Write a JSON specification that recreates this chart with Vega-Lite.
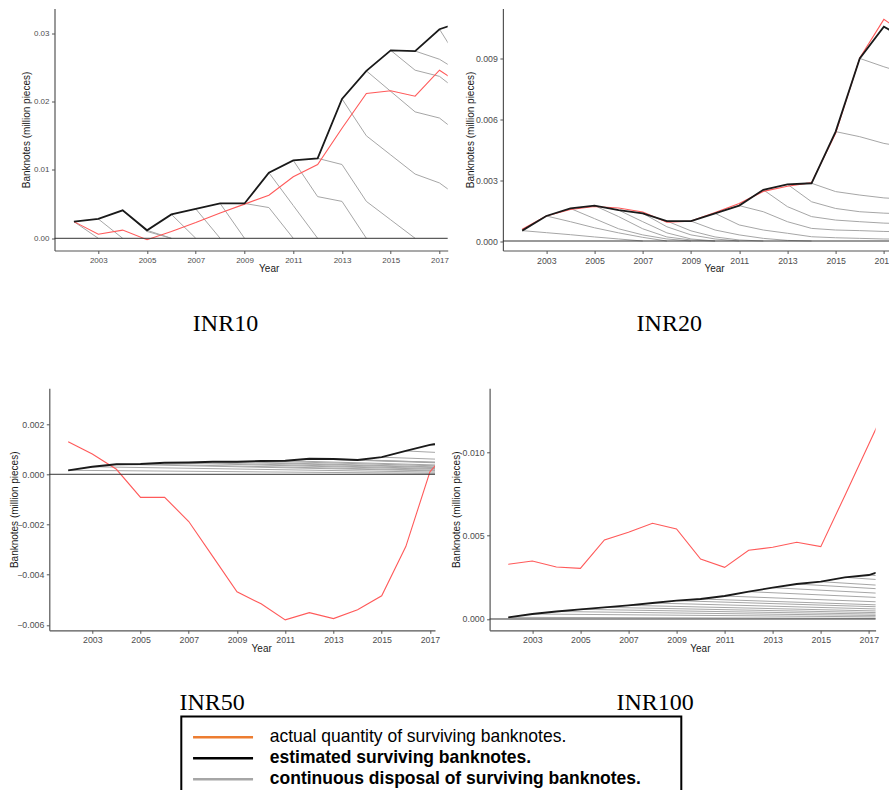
{
  "$schema": "https://vega.github.io/schema/vega-lite/v6.json",
  "padding": {"left": 9.3, "top": 8.5, "right": 0, "bottom": 0},
  "datasets": {
    "inr10": [
      {"series": "estimated", "year": 2002, "value": 0.00244}, {"series": "estimated", "year": 2003, "value": 0.00283},
      {"series": "estimated", "year": 2004, "value": 0.0041}, {"series": "estimated", "year": 2005, "value": 0.00117},
      {"series": "estimated", "year": 2006, "value": 0.0035}, {"series": "estimated", "year": 2007, "value": 0.0043},
      {"series": "estimated", "year": 2008, "value": 0.0051}, {"series": "estimated", "year": 2009, "value": 0.0051},
      {"series": "estimated", "year": 2010, "value": 0.0096}, {"series": "estimated", "year": 2011, "value": 0.0114},
      {"series": "estimated", "year": 2012, "value": 0.0117}, {"series": "estimated", "year": 2013, "value": 0.0204},
      {"series": "estimated", "year": 2014, "value": 0.0245}, {"series": "estimated", "year": 2015, "value": 0.0275},
      {"series": "estimated", "year": 2016, "value": 0.0274}, {"series": "estimated", "year": 2017, "value": 0.0306},
      {"series": "estimated", "year": 2018, "value": 0.0318},
      {"series": "actual", "year": 2002, "value": 0.00244}, {"series": "actual", "year": 2003, "value": 0.00059},
      {"series": "actual", "year": 2004, "value": 0.0012}, {"series": "actual", "year": 2005, "value": -0.0002},
      {"series": "actual", "year": 2006, "value": 0.001}, {"series": "actual", "year": 2007, "value": 0.0023},
      {"series": "actual", "year": 2008, "value": 0.0037}, {"series": "actual", "year": 2009, "value": 0.005},
      {"series": "actual", "year": 2010, "value": 0.0063}, {"series": "actual", "year": 2011, "value": 0.009},
      {"series": "actual", "year": 2012, "value": 0.0108}, {"series": "actual", "year": 2013, "value": 0.0161},
      {"series": "actual", "year": 2014, "value": 0.0212}, {"series": "actual", "year": 2015, "value": 0.0216},
      {"series": "actual", "year": 2016, "value": 0.0208}, {"series": "actual", "year": 2017, "value": 0.0246},
      {"series": "actual", "year": 2018, "value": 0.0222},
      {"series": "disposal", "line": "g2002", "year": 2002, "value": 0.00244}, {"series": "disposal", "line": "g2002", "year": 2003, "value": 0},
      {"series": "disposal", "line": "g2003", "year": 2003, "value": 0.00283}, {"series": "disposal", "line": "g2003", "year": 2004, "value": 0},
      {"series": "disposal", "line": "g2004", "year": 2004, "value": 0.0041}, {"series": "disposal", "line": "g2004", "year": 2005, "value": 0.001}, {"series": "disposal", "line": "g2004", "year": 2006, "value": 0},
      {"series": "disposal", "line": "g2005", "year": 2005, "value": 0.00117}, {"series": "disposal", "line": "g2005", "year": 2006, "value": 0},
      {"series": "disposal", "line": "g2006", "year": 2006, "value": 0.0035}, {"series": "disposal", "line": "g2006", "year": 2007, "value": 0},
      {"series": "disposal", "line": "g2007", "year": 2007, "value": 0.0043}, {"series": "disposal", "line": "g2007", "year": 2008, "value": 0},
      {"series": "disposal", "line": "g2008", "year": 2008, "value": 0.0051}, {"series": "disposal", "line": "g2008", "year": 2009, "value": 0},
      {"series": "disposal", "line": "g2009", "year": 2009, "value": 0.0051}, {"series": "disposal", "line": "g2009", "year": 2010, "value": 0.0045}, {"series": "disposal", "line": "g2009", "year": 2011, "value": 0},
      {"series": "disposal", "line": "g2010", "year": 2010, "value": 0.0096}, {"series": "disposal", "line": "g2010", "year": 2011, "value": 0.0048}, {"series": "disposal", "line": "g2010", "year": 2012, "value": 0},
      {"series": "disposal", "line": "g2011", "year": 2011, "value": 0.0114}, {"series": "disposal", "line": "g2011", "year": 2012, "value": 0.0061}, {"series": "disposal", "line": "g2011", "year": 2013, "value": 0.0054}, {"series": "disposal", "line": "g2011", "year": 2014, "value": 0},
      {"series": "disposal", "line": "g2012", "year": 2012, "value": 0.0117}, {"series": "disposal", "line": "g2012", "year": 2013, "value": 0.0108}, {"series": "disposal", "line": "g2012", "year": 2014, "value": 0.0054}, {"series": "disposal", "line": "g2012", "year": 2015, "value": 0.0027}, {"series": "disposal", "line": "g2012", "year": 2016, "value": 0},
      {"series": "disposal", "line": "g2013", "year": 2013, "value": 0.0204}, {"series": "disposal", "line": "g2013", "year": 2014, "value": 0.015}, {"series": "disposal", "line": "g2013", "year": 2015, "value": 0.0122}, {"series": "disposal", "line": "g2013", "year": 2016, "value": 0.0094}, {"series": "disposal", "line": "g2013", "year": 2017, "value": 0.0081}, {"series": "disposal", "line": "g2013", "year": 2018, "value": 0.0055},
      {"series": "disposal", "line": "g2014", "year": 2014, "value": 0.0245}, {"series": "disposal", "line": "g2014", "year": 2015, "value": 0.0215}, {"series": "disposal", "line": "g2014", "year": 2016, "value": 0.0185}, {"series": "disposal", "line": "g2014", "year": 2017, "value": 0.0176}, {"series": "disposal", "line": "g2014", "year": 2018, "value": 0.0148},
      {"series": "disposal", "line": "g2015", "year": 2015, "value": 0.0275}, {"series": "disposal", "line": "g2015", "year": 2016, "value": 0.0246}, {"series": "disposal", "line": "g2015", "year": 2017, "value": 0.0237}, {"series": "disposal", "line": "g2015", "year": 2018, "value": 0.0209},
      {"series": "disposal", "line": "g2016", "year": 2016, "value": 0.0274}, {"series": "disposal", "line": "g2016", "year": 2017, "value": 0.0262}, {"series": "disposal", "line": "g2016", "year": 2018, "value": 0.024},
      {"series": "disposal", "line": "g2017", "year": 2017, "value": 0.0306}, {"series": "disposal", "line": "g2017", "year": 2018, "value": 0.0249}
    ],
    "inr20": [
      {"series": "estimated", "year": 2002, "value": 0.00051}, {"series": "estimated", "year": 2003, "value": 0.00123},
      {"series": "estimated", "year": 2004, "value": 0.0016}, {"series": "estimated", "year": 2005, "value": 0.00174},
      {"series": "estimated", "year": 2006, "value": 0.00152}, {"series": "estimated", "year": 2007, "value": 0.00136},
      {"series": "estimated", "year": 2008, "value": 0.00098}, {"series": "estimated", "year": 2009, "value": 0.00098},
      {"series": "estimated", "year": 2010, "value": 0.00136}, {"series": "estimated", "year": 2011, "value": 0.00174},
      {"series": "estimated", "year": 2012, "value": 0.00252}, {"series": "estimated", "year": 2013, "value": 0.00279},
      {"series": "estimated", "year": 2014, "value": 0.00284}, {"series": "estimated", "year": 2015, "value": 0.00538},
      {"series": "estimated", "year": 2016, "value": 0.00898}, {"series": "estimated", "year": 2017, "value": 0.01054},
      {"series": "estimated", "year": 2018, "value": 0.0099},
      {"series": "actual", "year": 2002, "value": 0.00058}, {"series": "actual", "year": 2003, "value": 0.00123},
      {"series": "actual", "year": 2004, "value": 0.00155}, {"series": "actual", "year": 2005, "value": 0.0017},
      {"series": "actual", "year": 2006, "value": 0.00162}, {"series": "actual", "year": 2007, "value": 0.00143},
      {"series": "actual", "year": 2008, "value": 0.00093}, {"series": "actual", "year": 2009, "value": 0.00098},
      {"series": "actual", "year": 2010, "value": 0.0014}, {"series": "actual", "year": 2011, "value": 0.00185},
      {"series": "actual", "year": 2012, "value": 0.00244}, {"series": "actual", "year": 2013, "value": 0.00269},
      {"series": "actual", "year": 2014, "value": 0.00287}, {"series": "actual", "year": 2015, "value": 0.0053},
      {"series": "actual", "year": 2016, "value": 0.009}, {"series": "actual", "year": 2017, "value": 0.0109},
      {"series": "actual", "year": 2018, "value": 0.0101},
      {"series": "disposal", "line": "g2002", "year": 2002, "value": 0.00051}, {"series": "disposal", "line": "g2002", "year": 2003, "value": 0.00041}, {"series": "disposal", "line": "g2002", "year": 2004, "value": 0.00031}, {"series": "disposal", "line": "g2002", "year": 2005, "value": 0.0002}, {"series": "disposal", "line": "g2002", "year": 2006, "value": 0.0001}, {"series": "disposal", "line": "g2002", "year": 2007, "value": 0},
      {"series": "disposal", "line": "g2003", "year": 2003, "value": 0.00123}, {"series": "disposal", "line": "g2003", "year": 2004, "value": 0.00095}, {"series": "disposal", "line": "g2003", "year": 2005, "value": 0.00065}, {"series": "disposal", "line": "g2003", "year": 2006, "value": 0.0004}, {"series": "disposal", "line": "g2003", "year": 2007, "value": 0.00018}, {"series": "disposal", "line": "g2003", "year": 2008, "value": 0},
      {"series": "disposal", "line": "g2004", "year": 2004, "value": 0.0016}, {"series": "disposal", "line": "g2004", "year": 2005, "value": 0.0011}, {"series": "disposal", "line": "g2004", "year": 2006, "value": 0.0006}, {"series": "disposal", "line": "g2004", "year": 2007, "value": 0.0003}, {"series": "disposal", "line": "g2004", "year": 2008, "value": 0.0001}, {"series": "disposal", "line": "g2004", "year": 2009, "value": 0},
      {"series": "disposal", "line": "g2005", "year": 2005, "value": 0.00174}, {"series": "disposal", "line": "g2005", "year": 2006, "value": 0.0012}, {"series": "disposal", "line": "g2005", "year": 2007, "value": 0.0006}, {"series": "disposal", "line": "g2005", "year": 2008, "value": 0.0002}, {"series": "disposal", "line": "g2005", "year": 2009, "value": 0.00005}, {"series": "disposal", "line": "g2005", "year": 2010, "value": 0},
      {"series": "disposal", "line": "g2006", "year": 2006, "value": 0.00152}, {"series": "disposal", "line": "g2006", "year": 2007, "value": 0.00095}, {"series": "disposal", "line": "g2006", "year": 2008, "value": 0.0004}, {"series": "disposal", "line": "g2006", "year": 2009, "value": 0.0001}, {"series": "disposal", "line": "g2006", "year": 2010, "value": 0},
      {"series": "disposal", "line": "g2007", "year": 2007, "value": 0.00136}, {"series": "disposal", "line": "g2007", "year": 2008, "value": 0.0007}, {"series": "disposal", "line": "g2007", "year": 2009, "value": 0.0003}, {"series": "disposal", "line": "g2007", "year": 2010, "value": 0.0001}, {"series": "disposal", "line": "g2007", "year": 2011, "value": 0},
      {"series": "disposal", "line": "g2008", "year": 2008, "value": 0.00098}, {"series": "disposal", "line": "g2008", "year": 2009, "value": 0.0005}, {"series": "disposal", "line": "g2008", "year": 2010, "value": 0.0002}, {"series": "disposal", "line": "g2008", "year": 2011, "value": 0.00005}, {"series": "disposal", "line": "g2008", "year": 2012, "value": 0},
      {"series": "disposal", "line": "g2009", "year": 2009, "value": 0.00098}, {"series": "disposal", "line": "g2009", "year": 2010, "value": 0.00054}, {"series": "disposal", "line": "g2009", "year": 2011, "value": 0.0003}, {"series": "disposal", "line": "g2009", "year": 2012, "value": 0.00013}, {"series": "disposal", "line": "g2009", "year": 2013, "value": 0.00003}, {"series": "disposal", "line": "g2009", "year": 2014, "value": 0},
      {"series": "disposal", "line": "g2010", "year": 2010, "value": 0.00136}, {"series": "disposal", "line": "g2010", "year": 2011, "value": 0.00079}, {"series": "disposal", "line": "g2010", "year": 2012, "value": 0.00054}, {"series": "disposal", "line": "g2010", "year": 2013, "value": 0.00038}, {"series": "disposal", "line": "g2010", "year": 2014, "value": 0.00021}, {"series": "disposal", "line": "g2010", "year": 2015, "value": 0.00016}, {"series": "disposal", "line": "g2010", "year": 2016, "value": 0.00013}, {"series": "disposal", "line": "g2010", "year": 2017, "value": 0.0001}, {"series": "disposal", "line": "g2010", "year": 2018, "value": 0.00009},
      {"series": "disposal", "line": "g2011", "year": 2011, "value": 0.00174}, {"series": "disposal", "line": "g2011", "year": 2012, "value": 0.00144}, {"series": "disposal", "line": "g2011", "year": 2013, "value": 0.00095}, {"series": "disposal", "line": "g2011", "year": 2014, "value": 0.00062}, {"series": "disposal", "line": "g2011", "year": 2015, "value": 0.00054}, {"series": "disposal", "line": "g2011", "year": 2016, "value": 0.00051}, {"series": "disposal", "line": "g2011", "year": 2017, "value": 0.00047}, {"series": "disposal", "line": "g2011", "year": 2018, "value": 0.00045},
      {"series": "disposal", "line": "g2012", "year": 2012, "value": 0.00252}, {"series": "disposal", "line": "g2012", "year": 2013, "value": 0.00169}, {"series": "disposal", "line": "g2012", "year": 2014, "value": 0.0012}, {"series": "disposal", "line": "g2012", "year": 2015, "value": 0.00103}, {"series": "disposal", "line": "g2012", "year": 2016, "value": 0.00095}, {"series": "disposal", "line": "g2012", "year": 2017, "value": 0.00088}, {"series": "disposal", "line": "g2012", "year": 2018, "value": 0.00085},
      {"series": "disposal", "line": "g2013", "year": 2013, "value": 0.00279}, {"series": "disposal", "line": "g2013", "year": 2014, "value": 0.00193}, {"series": "disposal", "line": "g2013", "year": 2015, "value": 0.0016}, {"series": "disposal", "line": "g2013", "year": 2016, "value": 0.00144}, {"series": "disposal", "line": "g2013", "year": 2017, "value": 0.00137}, {"series": "disposal", "line": "g2013", "year": 2018, "value": 0.00133},
      {"series": "disposal", "line": "g2014", "year": 2014, "value": 0.00284}, {"series": "disposal", "line": "g2014", "year": 2015, "value": 0.00243}, {"series": "disposal", "line": "g2014", "year": 2016, "value": 0.00226}, {"series": "disposal", "line": "g2014", "year": 2017, "value": 0.00212}, {"series": "disposal", "line": "g2014", "year": 2018, "value": 0.00205},
      {"series": "disposal", "line": "g2015", "year": 2015, "value": 0.00538}, {"series": "disposal", "line": "g2015", "year": 2016, "value": 0.00513}, {"series": "disposal", "line": "g2015", "year": 2017, "value": 0.0048}, {"series": "disposal", "line": "g2015", "year": 2018, "value": 0.0046},
      {"series": "disposal", "line": "g2016", "year": 2016, "value": 0.00898}, {"series": "disposal", "line": "g2016", "year": 2017, "value": 0.00857}, {"series": "disposal", "line": "g2016", "year": 2018, "value": 0.0082},
      {"series": "disposal", "line": "g2017", "year": 2017, "value": 0.01054}, {"series": "disposal", "line": "g2017", "year": 2018, "value": 0.0097}
    ],
    "inr50": [
      {"series": "estimated", "year": 2002, "value": 0.00016}, {"series": "estimated", "year": 2003, "value": 0.0003},
      {"series": "estimated", "year": 2004, "value": 0.0004}, {"series": "estimated", "year": 2005, "value": 0.00041},
      {"series": "estimated", "year": 2006, "value": 0.00046}, {"series": "estimated", "year": 2007, "value": 0.00047},
      {"series": "estimated", "year": 2008, "value": 0.0005}, {"series": "estimated", "year": 2009, "value": 0.0005},
      {"series": "estimated", "year": 2010, "value": 0.00053}, {"series": "estimated", "year": 2011, "value": 0.00054},
      {"series": "estimated", "year": 2012, "value": 0.00062}, {"series": "estimated", "year": 2013, "value": 0.00061},
      {"series": "estimated", "year": 2014, "value": 0.00057}, {"series": "estimated", "year": 2015, "value": 0.00068},
      {"series": "estimated", "year": 2016, "value": 0.00093}, {"series": "estimated", "year": 2017, "value": 0.00117},
      {"series": "estimated", "year": 2018, "value": 0.00135},
      {"series": "actual", "year": 2002, "value": 0.0013}, {"series": "actual", "year": 2003, "value": 0.00081},
      {"series": "actual", "year": 2004, "value": 0.0002}, {"series": "actual", "year": 2005, "value": -0.00092},
      {"series": "actual", "year": 2006, "value": -0.00092}, {"series": "actual", "year": 2007, "value": -0.00188},
      {"series": "actual", "year": 2008, "value": -0.00328}, {"series": "actual", "year": 2009, "value": -0.00468},
      {"series": "actual", "year": 2010, "value": -0.00516}, {"series": "actual", "year": 2011, "value": -0.0058},
      {"series": "actual", "year": 2012, "value": -0.00551}, {"series": "actual", "year": 2013, "value": -0.00575},
      {"series": "actual", "year": 2014, "value": -0.0054}, {"series": "actual", "year": 2015, "value": -0.00484},
      {"series": "actual", "year": 2016, "value": -0.00288}, {"series": "actual", "year": 2017, "value": 0.0001},
      {"series": "actual", "year": 2018, "value": 0.0012},
      {"series": "disposal", "line": "g2002", "year": 2002, "value": 0.00016}, {"series": "disposal", "line": "g2002", "year": 2018, "value": 0.000032},
      {"series": "disposal", "line": "g2003", "year": 2003, "value": 0.0003}, {"series": "disposal", "line": "g2003", "year": 2018, "value": 0.000075},
      {"series": "disposal", "line": "g2004", "year": 2004, "value": 0.0004}, {"series": "disposal", "line": "g2004", "year": 2018, "value": 0.00012},
      {"series": "disposal", "line": "g2005", "year": 2005, "value": 0.00041}, {"series": "disposal", "line": "g2005", "year": 2018, "value": 0.000144},
      {"series": "disposal", "line": "g2006", "year": 2006, "value": 0.00046}, {"series": "disposal", "line": "g2006", "year": 2018, "value": 0.000184},
      {"series": "disposal", "line": "g2007", "year": 2007, "value": 0.00047}, {"series": "disposal", "line": "g2007", "year": 2018, "value": 0.000212},
      {"series": "disposal", "line": "g2008", "year": 2008, "value": 0.0005}, {"series": "disposal", "line": "g2008", "year": 2018, "value": 0.00025},
      {"series": "disposal", "line": "g2009", "year": 2009, "value": 0.0005}, {"series": "disposal", "line": "g2009", "year": 2018, "value": 0.000275},
      {"series": "disposal", "line": "g2010", "year": 2010, "value": 0.00053}, {"series": "disposal", "line": "g2010", "year": 2018, "value": 0.000318},
      {"series": "disposal", "line": "g2011", "year": 2011, "value": 0.00054}, {"series": "disposal", "line": "g2011", "year": 2018, "value": 0.000351},
      {"series": "disposal", "line": "g2012", "year": 2012, "value": 0.00062}, {"series": "disposal", "line": "g2012", "year": 2018, "value": 0.000434},
      {"series": "disposal", "line": "g2013", "year": 2013, "value": 0.00061}, {"series": "disposal", "line": "g2013", "year": 2018, "value": 0.000458},
      {"series": "disposal", "line": "g2014", "year": 2014, "value": 0.00057}, {"series": "disposal", "line": "g2014", "year": 2018, "value": 0.000456},
      {"series": "disposal", "line": "g2015", "year": 2015, "value": 0.00068}, {"series": "disposal", "line": "g2015", "year": 2018, "value": 0.000578},
      {"series": "disposal", "line": "g2016", "year": 2016, "value": 0.00093}, {"series": "disposal", "line": "g2016", "year": 2018, "value": 0.000837},
      {"series": "disposal", "line": "g2017", "year": 2017, "value": 0.00117}, {"series": "disposal", "line": "g2017", "year": 2018, "value": 0.00111}
    ],
    "inr100": [
      {"series": "estimated", "year": 2002, "value": 0.0001}, {"series": "estimated", "year": 2003, "value": 0.0003},
      {"series": "estimated", "year": 2004, "value": 0.00045}, {"series": "estimated", "year": 2005, "value": 0.00058},
      {"series": "estimated", "year": 2006, "value": 0.0007}, {"series": "estimated", "year": 2007, "value": 0.00082},
      {"series": "estimated", "year": 2008, "value": 0.00096}, {"series": "estimated", "year": 2009, "value": 0.0011},
      {"series": "estimated", "year": 2010, "value": 0.0012}, {"series": "estimated", "year": 2011, "value": 0.00138},
      {"series": "estimated", "year": 2012, "value": 0.00164}, {"series": "estimated", "year": 2013, "value": 0.00188},
      {"series": "estimated", "year": 2014, "value": 0.0021}, {"series": "estimated", "year": 2015, "value": 0.00224},
      {"series": "estimated", "year": 2016, "value": 0.0025}, {"series": "estimated", "year": 2017, "value": 0.00264},
      {"series": "estimated", "year": 2018, "value": 0.0031},
      {"series": "actual", "year": 2002, "value": 0.00328}, {"series": "actual", "year": 2003, "value": 0.00348},
      {"series": "actual", "year": 2004, "value": 0.00312}, {"series": "actual", "year": 2005, "value": 0.00304},
      {"series": "actual", "year": 2006, "value": 0.00474}, {"series": "actual", "year": 2007, "value": 0.0052},
      {"series": "actual", "year": 2008, "value": 0.00574}, {"series": "actual", "year": 2009, "value": 0.0054},
      {"series": "actual", "year": 2010, "value": 0.0036}, {"series": "actual", "year": 2011, "value": 0.0031},
      {"series": "actual", "year": 2012, "value": 0.00412}, {"series": "actual", "year": 2013, "value": 0.0043},
      {"series": "actual", "year": 2014, "value": 0.0046}, {"series": "actual", "year": 2015, "value": 0.00434},
      {"series": "actual", "year": 2016, "value": 0.0074}, {"series": "actual", "year": 2017, "value": 0.0105},
      {"series": "actual", "year": 2018, "value": 0.0136},
      {"series": "disposal", "line": "g2002", "year": 2002, "value": 0.0001}, {"series": "disposal", "line": "g2002", "year": 2018, "value": 0.000036},
      {"series": "disposal", "line": "g2003", "year": 2003, "value": 0.0003}, {"series": "disposal", "line": "g2003", "year": 2018, "value": 0.00012},
      {"series": "disposal", "line": "g2004", "year": 2004, "value": 0.00045}, {"series": "disposal", "line": "g2004", "year": 2018, "value": 0.000198},
      {"series": "disposal", "line": "g2005", "year": 2005, "value": 0.00058}, {"series": "disposal", "line": "g2005", "year": 2018, "value": 0.000278},
      {"series": "disposal", "line": "g2006", "year": 2006, "value": 0.0007}, {"series": "disposal", "line": "g2006", "year": 2018, "value": 0.000364},
      {"series": "disposal", "line": "g2007", "year": 2007, "value": 0.00082}, {"series": "disposal", "line": "g2007", "year": 2018, "value": 0.000459},
      {"series": "disposal", "line": "g2008", "year": 2008, "value": 0.00096}, {"series": "disposal", "line": "g2008", "year": 2018, "value": 0.000576},
      {"series": "disposal", "line": "g2009", "year": 2009, "value": 0.0011}, {"series": "disposal", "line": "g2009", "year": 2018, "value": 0.000704},
      {"series": "disposal", "line": "g2010", "year": 2010, "value": 0.0012}, {"series": "disposal", "line": "g2010", "year": 2018, "value": 0.000816},
      {"series": "disposal", "line": "g2011", "year": 2011, "value": 0.00138}, {"series": "disposal", "line": "g2011", "year": 2018, "value": 0.000994},
      {"series": "disposal", "line": "g2012", "year": 2012, "value": 0.00164}, {"series": "disposal", "line": "g2012", "year": 2018, "value": 0.00125},
      {"series": "disposal", "line": "g2013", "year": 2013, "value": 0.00188}, {"series": "disposal", "line": "g2013", "year": 2018, "value": 0.0015},
      {"series": "disposal", "line": "g2014", "year": 2014, "value": 0.0021}, {"series": "disposal", "line": "g2014", "year": 2018, "value": 0.00176},
      {"series": "disposal", "line": "g2015", "year": 2015, "value": 0.00224}, {"series": "disposal", "line": "g2015", "year": 2018, "value": 0.00197},
      {"series": "disposal", "line": "g2016", "year": 2016, "value": 0.0025}, {"series": "disposal", "line": "g2016", "year": 2018, "value": 0.0023},
      {"series": "disposal", "line": "g2017", "year": 2017, "value": 0.00264}, {"series": "disposal", "line": "g2017", "year": 2018, "value": 0.00253}
    ]
  },
  "columns": 2,
  "bounds": "flush",
  "spacing": {"row": 137.8, "column": 41.3},
  "resolve": {"scale": {"color": "shared"}, "legend": {"color": "shared"}},
  "concat": [
    {
      "width": 398.4, "height": 242,
      "data": {"name": "inr10"},
      "title": {"text": "INR10", "dx": -23, "offset": 38},
      "layer": [
        {
          "transform": [{"filter": "datum.series == 'disposal'"}],
          "mark": {"type": "line", "clip": true, "strokeWidth": 1},
          "encoding": {
            "x": {"field": "year", "type": "quantitative", "scale": {"domain": [2001.203, 2017.337], "range": [5.2, 398.4], "nice": false, "zero": false},
                  "axis": {"title": "Year", "values": [2003, 2005, 2007, 2009, 2011, 2013, 2015, 2017], "format": "d", "labelFontSize": 8, "minExtent": 11, "maxExtent": 11, "titlePadding": 2, "titleX": 219.4}},
            "y": {"field": "value", "type": "quantitative", "scale": {"domain": [-0.001785, 0.03363], "nice": false, "zero": false},
                  "axis": {"title": "Banknotes (million pieces)", "values": [0, 0.01, 0.02, 0.03], "format": ".2f", "labelFontSize": 8, "minExtent": 21, "maxExtent": 21, "titlePadding": 1.8, "offset": -5.2}},
            "detail": {"field": "line"},
            "color": {"field": "series", "type": "nominal",
                      "scale": {"domain": ["actual", "estimated", "disposal"], "range": ["#ed7d31", "#000000", "#a6a6a6"]},
                      "legend": {
                        "title": "\u00a0",
                        "labelExpr": "datum.value == 'actual' ? 'actual quantity of surviving banknotes.' : datum.value == 'estimated' ? 'estimated surviving banknotes.' : 'continuous disposal of surviving banknotes.'",
                        "encode": {
                          "labels": {"update": {"fontWeight": {"signal": "datum.value == 'actual' ? 'normal' : 'bold'"}}},
                          "legend": {"update": {"stroke": {"value": "#000000"}, "strokeWidth": {"value": 2}, "fill": {"value": "#ffffff"}}}
                        }
                      }}
          }
        },
        {
          "transform": [{"filter": "datum.series == 'actual'"}],
          "mark": {"type": "line", "clip": true, "strokeWidth": 1.1, "color": "#ff5a5a"},
          "encoding": {"x": {"field": "year", "type": "quantitative"}, "y": {"field": "value", "type": "quantitative"}}
        },
        {
          "transform": [{"filter": "datum.series == 'estimated'"}],
          "mark": {"type": "line", "clip": true, "strokeWidth": 1.8, "color": "#1a1a1a"},
          "encoding": {"x": {"field": "year", "type": "quantitative"}, "y": {"field": "value", "type": "quantitative"}}
        },
        {
          "data": {"values": [{}]},
          "mark": {"type": "rule", "color": "#333333", "strokeWidth": 1},
          "encoding": {"x": {"datum": 2001.203, "type": "quantitative"}, "x2": {"datum": 2017.337}, "y": {"datum": 0, "type": "quantitative"}}
        }
      ]
    },
    {
      "width": 400.3, "height": 242,
      "data": {"name": "inr20"},
      "title": {"text": "INR20", "dx": -20.5, "offset": 38},
      "layer": [
        {
          "transform": [{"filter": "datum.series == 'disposal'"}],
          "mark": {"type": "line", "clip": true, "strokeWidth": 1},
          "encoding": {
            "x": {"field": "year", "type": "quantitative", "scale": {"domain": [2001.2, 2017.25], "range": [13.3, 400.3], "nice": false, "zero": false},
                  "axis": {"title": "Year", "values": [2003, 2005, 2007, 2009, 2011, 2013, 2015, 2017], "format": "d", "labelFontSize": 8.8, "minExtent": 11, "maxExtent": 11, "titlePadding": 2, "titleX": 224.5}},
            "y": {"field": "value", "type": "quantitative", "scale": {"domain": [-0.000467, 0.011435], "nice": false, "zero": false},
                  "axis": {"title": "Banknotes (million pieces)", "values": [0, 0.003, 0.006, 0.009], "format": ".3f", "labelFontSize": 8.8, "minExtent": 25, "maxExtent": 25, "titlePadding": 2.3, "offset": -13.3}},
            "detail": {"field": "line"},
            "color": {"field": "series", "type": "nominal"}
          }
        },
        {
          "transform": [{"filter": "datum.series == 'actual'"}],
          "mark": {"type": "line", "clip": true, "strokeWidth": 1.1, "color": "#ff5a5a"},
          "encoding": {"x": {"field": "year", "type": "quantitative"}, "y": {"field": "value", "type": "quantitative"}}
        },
        {
          "transform": [{"filter": "datum.series == 'estimated'"}],
          "mark": {"type": "line", "clip": true, "strokeWidth": 1.8, "color": "#1a1a1a"},
          "encoding": {"x": {"field": "year", "type": "quantitative"}, "y": {"field": "value", "type": "quantitative"}}
        },
        {
          "data": {"values": [{}]},
          "mark": {"type": "rule", "color": "#333333", "strokeWidth": 1},
          "encoding": {"x": {"datum": 2001.2, "type": "quantitative"}, "x2": {"datum": 2017.25}, "y": {"datum": 0, "type": "quantitative"}}
        }
      ]
    },
    {
      "width": 385.7, "height": 242,
      "data": {"name": "inr50"},
      "title": {"text": "INR50", "dx": -30, "offset": 38},
      "layer": [
        {
          "transform": [{"filter": "datum.series == 'disposal'"}],
          "mark": {"type": "line", "clip": true, "strokeWidth": 1},
          "encoding": {
            "x": {"field": "year", "type": "quantitative", "scale": {"domain": [2001.217, 2017.21], "nice": false, "zero": false},
                  "axis": {"title": "Year", "values": [2003, 2005, 2007, 2009, 2011, 2013, 2015, 2017], "format": "d", "labelFontSize": 8.8, "minExtent": 11, "maxExtent": 11, "titlePadding": 2, "titleX": 211.9}},
            "y": {"field": "value", "type": "quantitative", "scale": {"domain": [-0.006215, 0.003426], "nice": false, "zero": false},
                  "axis": {"title": "Banknotes (million pieces)", "values": [-0.006, -0.004, -0.002, 0, 0.002], "format": ".3f", "labelFontSize": 8.8, "minExtent": 28, "maxExtent": 28, "titlePadding": 2}},
            "detail": {"field": "line"},
            "color": {"field": "series", "type": "nominal"}
          }
        },
        {
          "transform": [{"filter": "datum.series == 'actual'"}],
          "mark": {"type": "line", "clip": true, "strokeWidth": 1.1, "color": "#ff5a5a"},
          "encoding": {"x": {"field": "year", "type": "quantitative"}, "y": {"field": "value", "type": "quantitative"}}
        },
        {
          "transform": [{"filter": "datum.series == 'estimated'"}],
          "mark": {"type": "line", "clip": true, "strokeWidth": 1.8, "color": "#1a1a1a"},
          "encoding": {"x": {"field": "year", "type": "quantitative"}, "y": {"field": "value", "type": "quantitative"}}
        },
        {
          "data": {"values": [{}]},
          "mark": {"type": "rule", "color": "#333333", "strokeWidth": 1},
          "encoding": {"y": {"datum": 0, "type": "quantitative"}}
        }
      ]
    },
    {
      "width": 386, "height": 242,
      "data": {"name": "inr100"},
      "title": {"text": "INR100", "dx": -27.5, "offset": 38},
      "layer": [
        {
          "transform": [{"filter": "datum.series == 'disposal'"}],
          "mark": {"type": "line", "clip": true, "strokeWidth": 1},
          "encoding": {
            "x": {"field": "year", "type": "quantitative", "scale": {"domain": [2001.224, 2017.28], "nice": false, "zero": false},
                  "axis": {"title": "Year", "values": [2003, 2005, 2007, 2009, 2011, 2013, 2015, 2017], "format": "d", "labelFontSize": 8.8, "minExtent": 11, "maxExtent": 11, "titlePadding": 2, "titleX": 210.3}},
            "y": {"field": "value", "type": "quantitative", "scale": {"domain": [-0.000678, 0.01384], "nice": false, "zero": false},
                  "axis": {"title": "Banknotes (million pieces)", "values": [0, 0.005, 0.01], "format": ".3f", "labelFontSize": 8.8, "minExtent": 26.5, "maxExtent": 26.5, "titlePadding": 1.8}},
            "detail": {"field": "line"},
            "color": {"field": "series", "type": "nominal"}
          }
        },
        {
          "transform": [{"filter": "datum.series == 'actual'"}],
          "mark": {"type": "line", "clip": true, "strokeWidth": 1.1, "color": "#ff5a5a"},
          "encoding": {"x": {"field": "year", "type": "quantitative"}, "y": {"field": "value", "type": "quantitative"}}
        },
        {
          "transform": [{"filter": "datum.series == 'estimated'"}],
          "mark": {"type": "line", "clip": true, "strokeWidth": 1.8, "color": "#1a1a1a"},
          "encoding": {"x": {"field": "year", "type": "quantitative"}, "y": {"field": "value", "type": "quantitative"}}
        },
        {
          "data": {"values": [{}]},
          "mark": {"type": "rule", "color": "#333333", "strokeWidth": 1},
          "encoding": {"y": {"datum": 0, "type": "quantitative"}}
        }
      ]
    }
  ],
  "config": {
    "view": {"stroke": null},
    "font": "Liberation Sans",
    "line": {"color": "#a0a0a0"},
    "axis": {
      "grid": false, "domainColor": "#555555", "domainWidth": 1.2, "tickColor": "#555555", "tickSize": 3, "tickWidth": 1,
      "labelColor": "#4d4d4d", "labelFont": "Liberation Sans", "labelPadding": 2.5, "labelFlush": false,
      "titleFont": "Liberation Sans", "titleFontSize": 10, "titleFontWeight": "normal", "titleColor": "#1a1a1a"
    },
    "title": {"font": "Liberation Serif", "fontSize": 24, "fontWeight": "normal", "color": "#000000", "orient": "bottom", "anchor": "middle"},
    "legend": {
      "orient": "none", "legendX": 132, "legendY": 708, "direction": "vertical", "padding": 12,
      "titleOrient": "right", "titlePadding": 28, "titleFontSize": 17.5,
      "labelFont": "Liberation Sans", "labelFontSize": 17.5, "labelColor": "#000000", "labelLimit": 600, "labelOffset": 38,
      "symbolType": "M-6,0H6", "symbolSize": 100, "symbolOffset": 21, "symbolStrokeWidth": 2.4, "rowPadding": 2
    }
  }
}
